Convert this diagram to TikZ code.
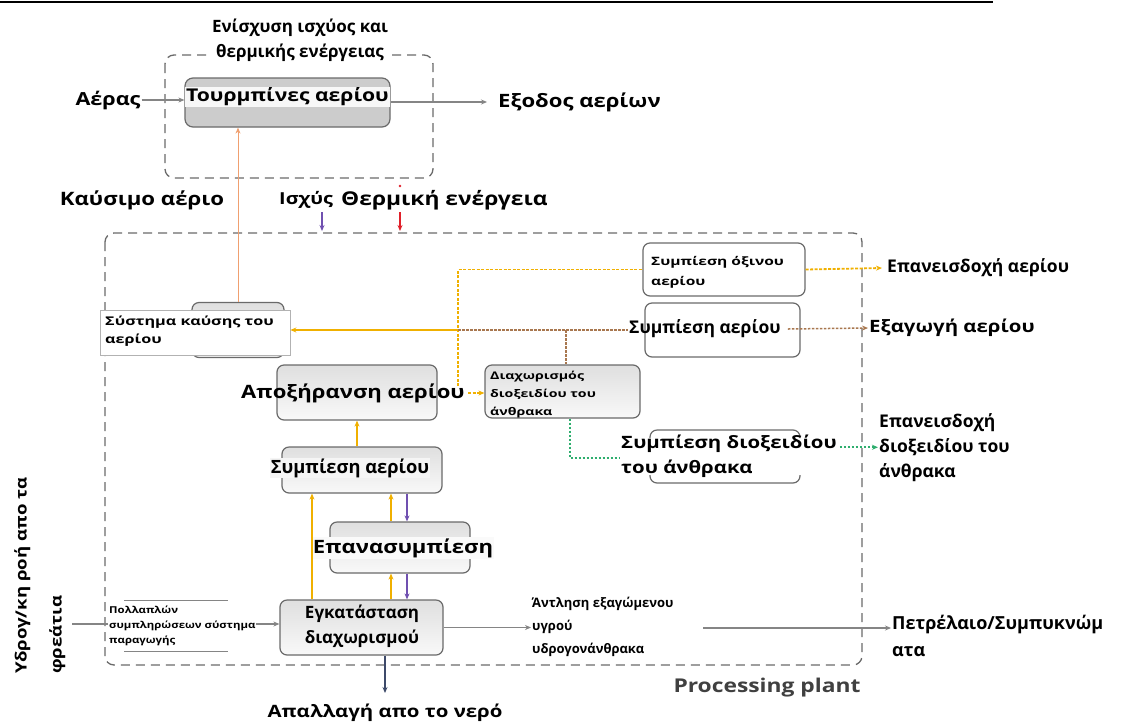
\documentclass[tikz,border=0pt]{standalone}
\usepackage{fontspec}
\setmainfont{Open Sans}
\newfontfamily\wf{Open Sans}[FakeStretch=1.2]
\newfontfamily\xwf{Open Sans}[FakeStretch=1.35]
\newcommand\fsz[2]{\fontsize{#1}{#2}\selectfont}
\usetikzlibrary{arrows.meta}
\definecolor{ylw}{HTML}{F0B000}
\definecolor{org}{HTML}{F0A070}
\definecolor{brn}{HTML}{A8774F}
\definecolor{grn}{HTML}{2EAE6E}
\definecolor{prp}{HTML}{7050B0}
\definecolor{redc}{HTML}{E0202A}
\definecolor{flow}{HTML}{858585}
\definecolor{drain}{HTML}{3E4A6A}
\definecolor{frame}{HTML}{6A6A6A}
\begin{document}
\begin{tikzpicture}[x=1pt,y=-1pt,
  wl/.style={font=\wf\bfseries\fsz{#1}{25}, inner sep=1pt, align=left},
  pl/.style={font=\bfseries\fsz{#1}{25}, inner sep=1pt, align=left},
  boxst/.style={draw=frame, line width=1.2pt, rounded corners=7pt, top color=gray!25, bottom color=gray!5, inner sep=0pt},
  wbox/.style={draw=frame, line width=1.2pt, rounded corners=7pt, fill=white, inner sep=0pt},
  frm/.style={draw=frame, line width=1.3pt, dash pattern=on 9pt off 6pt, rounded corners=9pt},
  tip/.style={-{Stealth[length=6pt,width=5pt]}},
  gline/.style={draw=flow, line width=1.1pt, tip},
  yarr/.style={draw=ylw, line width=1.1pt, tip},
  parr/.style={draw=prp, line width=1.1pt, tip},
  oarr/.style={draw=org, line width=0.9pt, tip},
  ydot/.style={draw=ylw, line width=1.8pt, dash pattern=on 3pt off 1.5pt},
  bdot/.style={draw=brn, line width=1.5pt, dash pattern=on 2.5pt off 1.5pt},
  gdot/.style={draw=grn, line width=1.6pt, dash pattern=on 2.5pt off 1.5pt},
]
\useasboundingbox (0,0) rectangle (1143,724);
\fill[white] (0,0) rectangle (1143,724);
% rule at the head of the page
\draw[line width=2pt] (0,2) -- (993,2);

% ---------- power and heat block ----------
\draw[frm] (165,55) rectangle (433,178);
\node[pl=17, fill=white, align=center] (title) at (300,40) {Ενίσχυση ισχύος και\\θερμικής ενέργειας};
\node[draw=frame, line width=1.2pt, rounded corners=8pt, fill=gray!40, minimum width=205pt, minimum height=49pt, inner sep=0pt] (turb) at (287.5,102.5) {};
\node[wl=17.6, fill=gray!6, minimum width=202pt, align=center] (turbt) at (287.5,97) {Τουρμπίνες αερίου};
\node[wl=18] (air) at (108,100) {Αέρας};
\node[wl=18.4, anchor=west] (exh) at (497,102) {Εξοδος αερίων};
\draw[gline] (air.east) -- (turb.west |- air.east);
\draw[gline, shorten >=10pt] (turb.east |- exh.west) -- (exh.west);

\node[wl=18.5] (fuel) at (142,200) {Καύσιμο αέριο};
\node[wl=16.5, anchor=west] (pow) at (278,200) {Ισχύς};
\node[wl=19, anchor=west] (heat) at (340,200) {Θερμική ενέργεια};
\coordinate (pw0) at (322,212);
\coordinate (pw1) at (322,231);
\coordinate (ht0) at (400,212);
\coordinate (ht1) at (400,231);
\coordinate (htd) at (400,186);
\draw[parr] (pw0) -- (pw1);
\draw[draw=redc, line width=1.1pt, tip] (ht0) -- (ht1);
\fill[redc] (htd) circle (1.3pt);

% ---------- processing plant ----------
\draw[frm] (105,233) rectangle (862,665);
\node[font=\wf\bfseries\fsz{19}{22}, text=black!75] (pp) at (767,688) {Processing plant};

% fuel gas system
\node[boxst, minimum width=92pt, minimum height=55pt] (combg) at (238,330) {};
\node[draw=gray!60, fill=white, line width=0.8pt, minimum width=190pt, minimum height=45pt, inner sep=0pt] (comb) at (195,333) {};
\node[font=\xwf\bfseries\fsz{12}{18}, inner sep=1pt, align=left, anchor=west] (combt) at (104,331) {Σύστημα καύσης του\\αερίου};
\draw[oarr] (combg.north) -- (turb.south -| combg.north);

% dehydration
\node[boxst, minimum width=160pt, minimum height=55pt] (dry) at (357,392.5) {};
\node[wl=18.4] (dryt) at (353,393) {Αποξήρανση αερίου};

% acid gas compression
\node[wbox, minimum width=162pt, minimum height=53pt] (acid) at (724,269.5) {};
\node[font=\xwf\bfseries\fsz{11.5}{20}, inner sep=1pt, align=left, anchor=west] (acidt) at (650,272) {Συμπίεση όξινου\\αερίου};

% sales gas compression
\node[wbox, minimum width=155pt, minimum height=54pt] (rcomp) at (722.5,330) {};
\node[pl=17.5] (rcompt) at (705,329) {Συμπίεση αερίου};

% CO2 removal
\node[boxst, minimum width=155pt, minimum height=53pt] (dia) at (562.5,391.5) {};
\node[font=\xwf\bfseries\fsz{10.5}{18}, inner sep=1pt, align=left, anchor=north west] (diat) at (489,370) {Διαχωρισμός\\διοξειδίου του\\άνθρακα};

% CO2 compression
\begin{scope}
  \clip (640,424) rectangle (812,438) (640,475) rectangle (812,490);
  \node[wbox, minimum width=150pt, minimum height=53pt] (co2) at (725,456.5) {};
\end{scope}
\node[wl=17, anchor=west] (co2t) at (620,456) {Συμπίεση διοξειδίου\\του άνθρακα};

% gas compression, recompression, separation
\node[boxst, minimum width=160pt, minimum height=46pt] (lowc) at (362,470) {};
\node[pl=18.3, fill=gray!8] (lowct) at (350,468) {Συμπίεση αερίου};
\node[boxst, minimum width=140pt, minimum height=51pt] (rep) at (400,547.5) {};
\node[wl=18.4, fill=gray!4] (rept) at (403,548) {Επανασυμπίεση};
\node[boxst, minimum width=163pt, minimum height=55pt] (sep) at (361.5,627.5) {};
\node[pl=17, align=center] (sept) at (362,626) {Εγκατάσταση\\διαχωρισμού};

% inlet from the wells
\node[minimum width=103pt, minimum height=50pt, inner sep=0pt] (inl) at (176,626) {};
\draw[draw=flow, line width=1pt] (inl.north west) -- (inl.north east);
\draw[draw=flow, line width=1pt] (inl.south west) -- (inl.south east);
\node[rotate=90, anchor=north west, inner sep=0pt, align=left, font=\wf\bfseries\fsz{15.5}{35}] (wellt) at (14,674) {Υδρογ/κη ροή απο τα\\φρεάτια};
\coordinate (src) at (72,624);
\draw[gline] (src) -- (sep.west |- src);
\node[font=\wf\bfseries\fsz{9.5}{15}, fill=white, anchor=west, align=left, inner sep=1pt] (inlt) at (108,626) {Πολλαπλών\\συμπληρώσεων σύστημα\\παραγωγής};

% outlets at the right
\node[pl=17.5, anchor=west] (reinj) at (886,268) {Επανεισδοχή αερίου};
\node[wl=17, anchor=west] (exg) at (868,328) {Εξαγωγή αερίου};
\node[pl=17.5, anchor=north west] (co2out) at (878,412) {Επανεισδοχή\\διοξειδίου του\\άνθρακα};
\node[font=\bfseries\fsz{13}{23}, anchor=north west, align=left, inner sep=1pt] (pump) at (531,596) {Άντληση εξαγώμενου\\υγρού\\υδρογονάνθρακα};
\node[anchor=north west, inner sep=1pt, align=left, font=\bfseries\fsz{18}{27}] (oil) at (891,614) {Πετρέλαιο/Συμπυκνώμ\\ατα};
\node[wl=17] (wat) at (385,713) {Απαλλαγή απο το νερό};

% ---------- connectors ----------
\coordinate (jn) at (458,330);
\coordinate (jy) at (458,386);
\coordinate (jb) at (566,330);
\coordinate (dr) at (468,393);
\coordinate (gd) at (570,458);
\coordinate (pl) at (703,628);
\coordinate (c1) at (357,0);
\coordinate (c2) at (312,0);
\coordinate (c3) at (391,0);
\coordinate (c4) at (407,0);

\draw[yarr] (jn) -- (comb.east |- jn);
\draw[ydot] (jy) |- (acid.west);
\draw[ydot, tip] (dr) -- (dia.west |- dr);
\draw[ydot, tip] (acid.east) -- ([xshift=-4pt]reinj.west);
\draw[bdot] (jn) -- (rcompt.west |- jn);
\draw[bdot] (jb) -- (dia.north -| jb);
\draw[bdot, tip] ([xshift=6pt]rcompt.east) -- (exg.west);
\draw[gdot] (dia.south -| gd) -- (gd) -- (co2t.west |- gd);
\draw[gdot, tip] ([xshift=2pt]co2t.east |- co2out.west) -- (co2out.west);

\draw[yarr] (lowc.north -| c1) -- (dry.south -| c1);
\draw[yarr] (sep.north -| c2) -- (lowc.south -| c2);
\draw[yarr] (rep.north -| c3) -- (lowc.south -| c3);
\draw[yarr] (sep.north -| c3) -- (rep.south -| c3);
\draw[parr] (lowc.south -| c4) -- (rep.north -| c4);
\draw[parr] (rep.south -| c4) -- (sep.north -| c4);

\draw[gline] (sep.east) -- (sep.east -| pump.west);
\draw[gline] (pl) -- (oil.west |- pl);
\draw[draw=drain, line width=1.3pt, tip] (sep.south -| wat) -- ([yshift=10pt]wat.north);
\end{tikzpicture}
\end{document}
